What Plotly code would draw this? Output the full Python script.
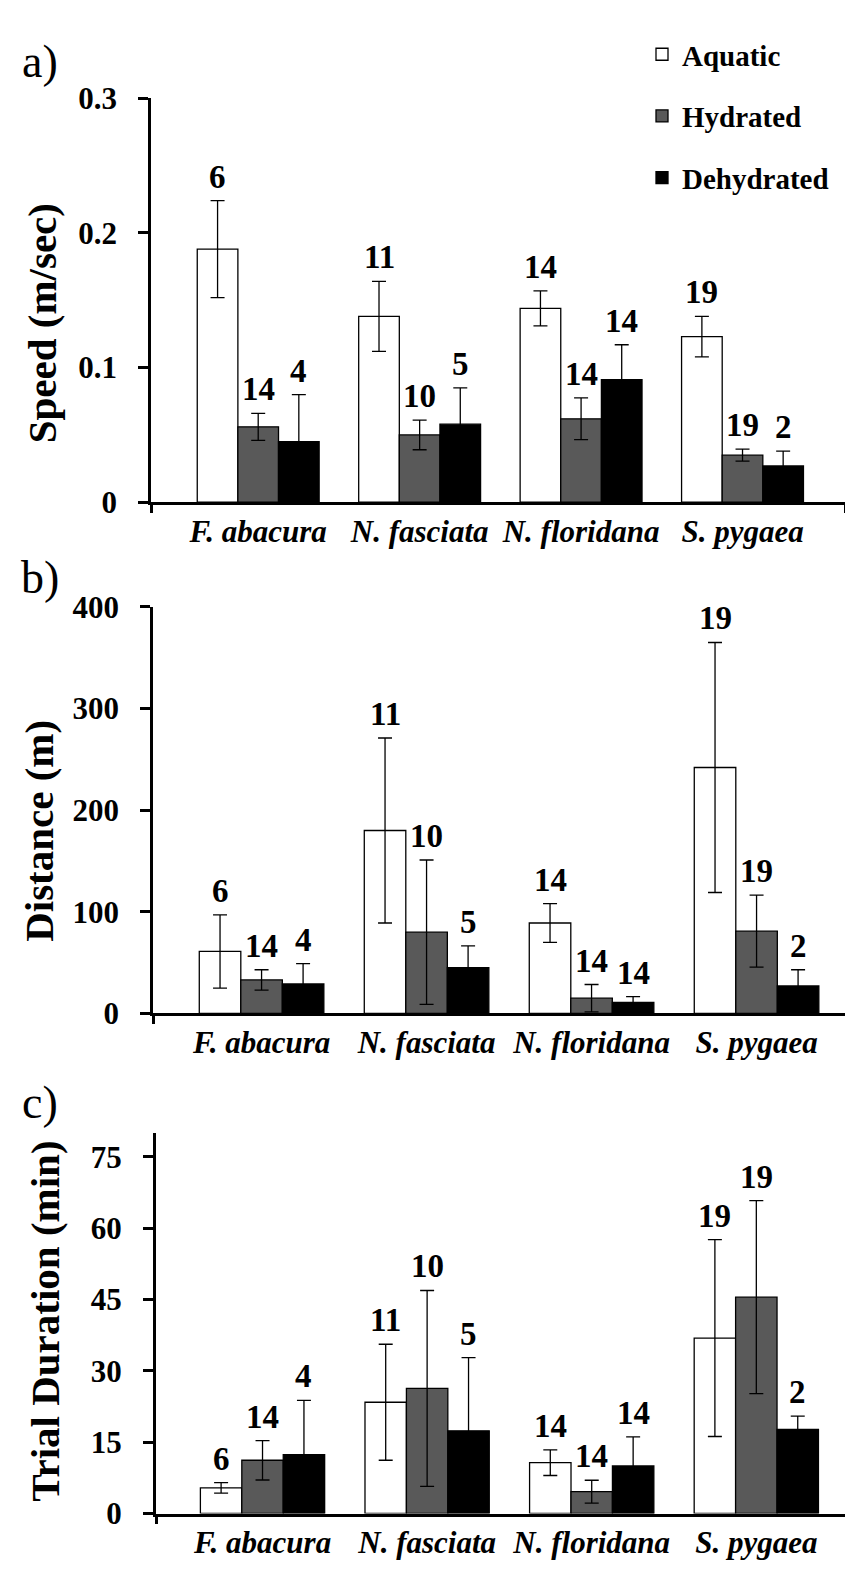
import plotly.graph_objects as go

species = ["F. abacura", "N. fasciata", "N. floridana", "S. pygaea"]
conditions = ["Aquatic", "Hydrated", "Dehydrated"]

speed_aquatic = [0.188, 0.138, 0.144, 0.123]
speed_aquatic_err = [0.036, 0.026, 0.013, 0.015]
speed_hydrated = [0.056, 0.050, 0.062, 0.035]
speed_hydrated_err = [0.010, 0.011, 0.0155, 0.0045]
speed_dehydrated = [0.045, 0.058, 0.091, 0.027]
speed_dehydrated_err = [0.035, 0.027, 0.026, 0.011]

dist_aquatic = [61, 180, 89, 242]
dist_aquatic_err = [36, 91, 19, 123]
dist_hydrated = [33, 80, 15, 81]
dist_hydrated_err = [10, 71, 13.5, 35.5]
dist_dehydrated = [29, 45, 11, 27]
dist_dehydrated_err = [20, 21.5, 5.5, 16]

dur_aquatic = [5.4, 23.4, 10.7, 36.9]
dur_aquatic_err = [1.1, 12.2, 2.7, 20.7]
dur_hydrated = [11.2, 26.3, 4.6, 45.5]
dur_hydrated_err = [4.15, 20.6, 2.4, 20.3]
dur_dehydrated = [12.4, 17.4, 10.0, 17.7]
dur_dehydrated_err = [11.4, 15.4, 6.1, 2.8]

n_aquatic = [6, 11, 14, 19]
n_hydrated = [14, 10, 14, 19]
n_dehydrated = [4, 5, 14, 2]

y_titles = ["Speed (m/sec)", "Distance (m)", "Trial Duration (min)"]
panel_letters = ["a)", "b)", "c)"]

W, H = 853, 1591
FONT = "Liberation Serif"
colors = ["white", "#595959", "black"]
BARGAP = 0.245

panels = [
    dict(vals=[speed_aquatic, speed_hydrated, speed_dehydrated],
         errs=[speed_aquatic_err, speed_hydrated_err, speed_dehydrated_err],
         xdom=[143, 838], ypx=[488, 75], yrange=[0, 0.3], dtick=0.1,
         xrange=[-0.664, 3.641], title_xy=(34, 305), letter_xy=(32, 37)),
    dict(vals=[dist_aquatic, dist_hydrated, dist_dehydrated],
         errs=[dist_aquatic_err, dist_hydrated_err, dist_dehydrated_err],
         xdom=[145, 853], ypx=[1010.7, 595], yrange=[0, 400], dtick=100,
         xrange=[-0.658, 3.633], title_xy=(31, 824), letter_xy=(32, 565)),
    dict(vals=[dur_aquatic, dur_hydrated, dur_dehydrated],
         errs=[dur_aquatic_err, dur_hydrated_err, dur_dehydrated_err],
         xdom=[147.7, 853], ypx=[1522, 1133], yrange=[0, 80], dtick=15,
         xrange=[-0.649, 3.636], title_xy=(37, 1326), letter_xy=(32, 1102)),
]
ns = [n_aquatic, n_hydrated, n_dehydrated]

fig = go.Figure()
annotations = []
bw = (1 - BARGAP) / 3
xs = list(range(len(species)))

for p, pan in enumerate(panels):
    suf = "" if p == 0 else str(p + 1)
    xref, yref = "x" + suf, "y" + suf
    for k, cond in enumerate(conditions):
        fig.add_trace(go.Bar(
            x=xs, y=pan["vals"][k], name=cond,
            xaxis=xref, yaxis=yref,
            marker=dict(color=colors[k], line=dict(color="black", width=1.3)),
            error_y=dict(type="data", array=pan["errs"][k], color="black",
                         thickness=1.3, width=7),
            showlegend=(p == 0), legendgroup=cond,
        ))
        for i in xs:
            annotations.append(dict(
                x=i + (k - 1) * bw, y=pan["vals"][k][i] + pan["errs"][k][i],
                xref=xref, yref=yref, text=str(ns[k][i]), showarrow=False,
                yanchor="bottom", yshift=4,
                font=dict(family=FONT, size=33, color="black", weight="bold"),
            ))
    x0, x1 = pan["xrange"]
    fig.update_layout({
        "xaxis" + suf: dict(
            domain=[pan["xdom"][0] / W, pan["xdom"][1] / W], range=[x0, x1],
            anchor=yref, tickvals=xs, ticktext=species, ticks="",
            showline=True, linecolor="black", linewidth=2.5,
            showgrid=False, zeroline=False, ticklabelstandoff=0,
            tickfont=dict(family=FONT, size=31, color="black",
                          weight="bold", style="italic"),
            minor=dict(tickvals=[x0 + 0.002, x1 - 0.002], ticks="outside",
                       ticklen=8, tickwidth=2.5, tickcolor="black",
                       showgrid=False),
        ),
        "yaxis" + suf: dict(
            domain=[1 - pan["ypx"][0] / H, 1 - pan["ypx"][1] / H],
            range=pan["yrange"], dtick=pan["dtick"], tick0=0,
            anchor=xref, showline=True, linecolor="black", linewidth=2.5,
            ticks="outside", ticklen=10, tickwidth=2.5, tickcolor="black",
            showgrid=False, zeroline=False, ticklabelstandoff=15,
            tickfont=dict(family=FONT, size=31, color="black", weight="bold"),
        ),
    })
    annotations.append(dict(
        x=pan["title_xy"][0] / W, y=1 - pan["title_xy"][1] / H,
        xref="paper", yref="paper", text=y_titles[p], textangle=-90,
        showarrow=False, xanchor="center", yanchor="middle",
        font=dict(family=FONT, size=41, color="black", weight="bold"),
    ))
    annotations.append(dict(
        x=pan["letter_xy"][0] / W, y=1 - pan["letter_xy"][1] / H,
        xref="paper", yref="paper", text=panel_letters[p],
        showarrow=False, xanchor="center", yanchor="middle",
        font=dict(family=FONT, size=46, color="black"),
    ))

fig.update_layout(
    width=W, height=H, margin=dict(l=0, r=0, t=0, b=0),
    paper_bgcolor="white", plot_bgcolor="white",
    barmode="group", bargap=BARGAP, bargroupgap=0,
    annotations=annotations,
    legend=dict(x=634 / W, y=1 - 4 / H, xanchor="left", yanchor="top",
                tracegroupgap=21, bgcolor="rgba(0,0,0,0)",
                font=dict(family=FONT, size=29, color="black", weight="bold")),
)

fig.write_html("out.html")
